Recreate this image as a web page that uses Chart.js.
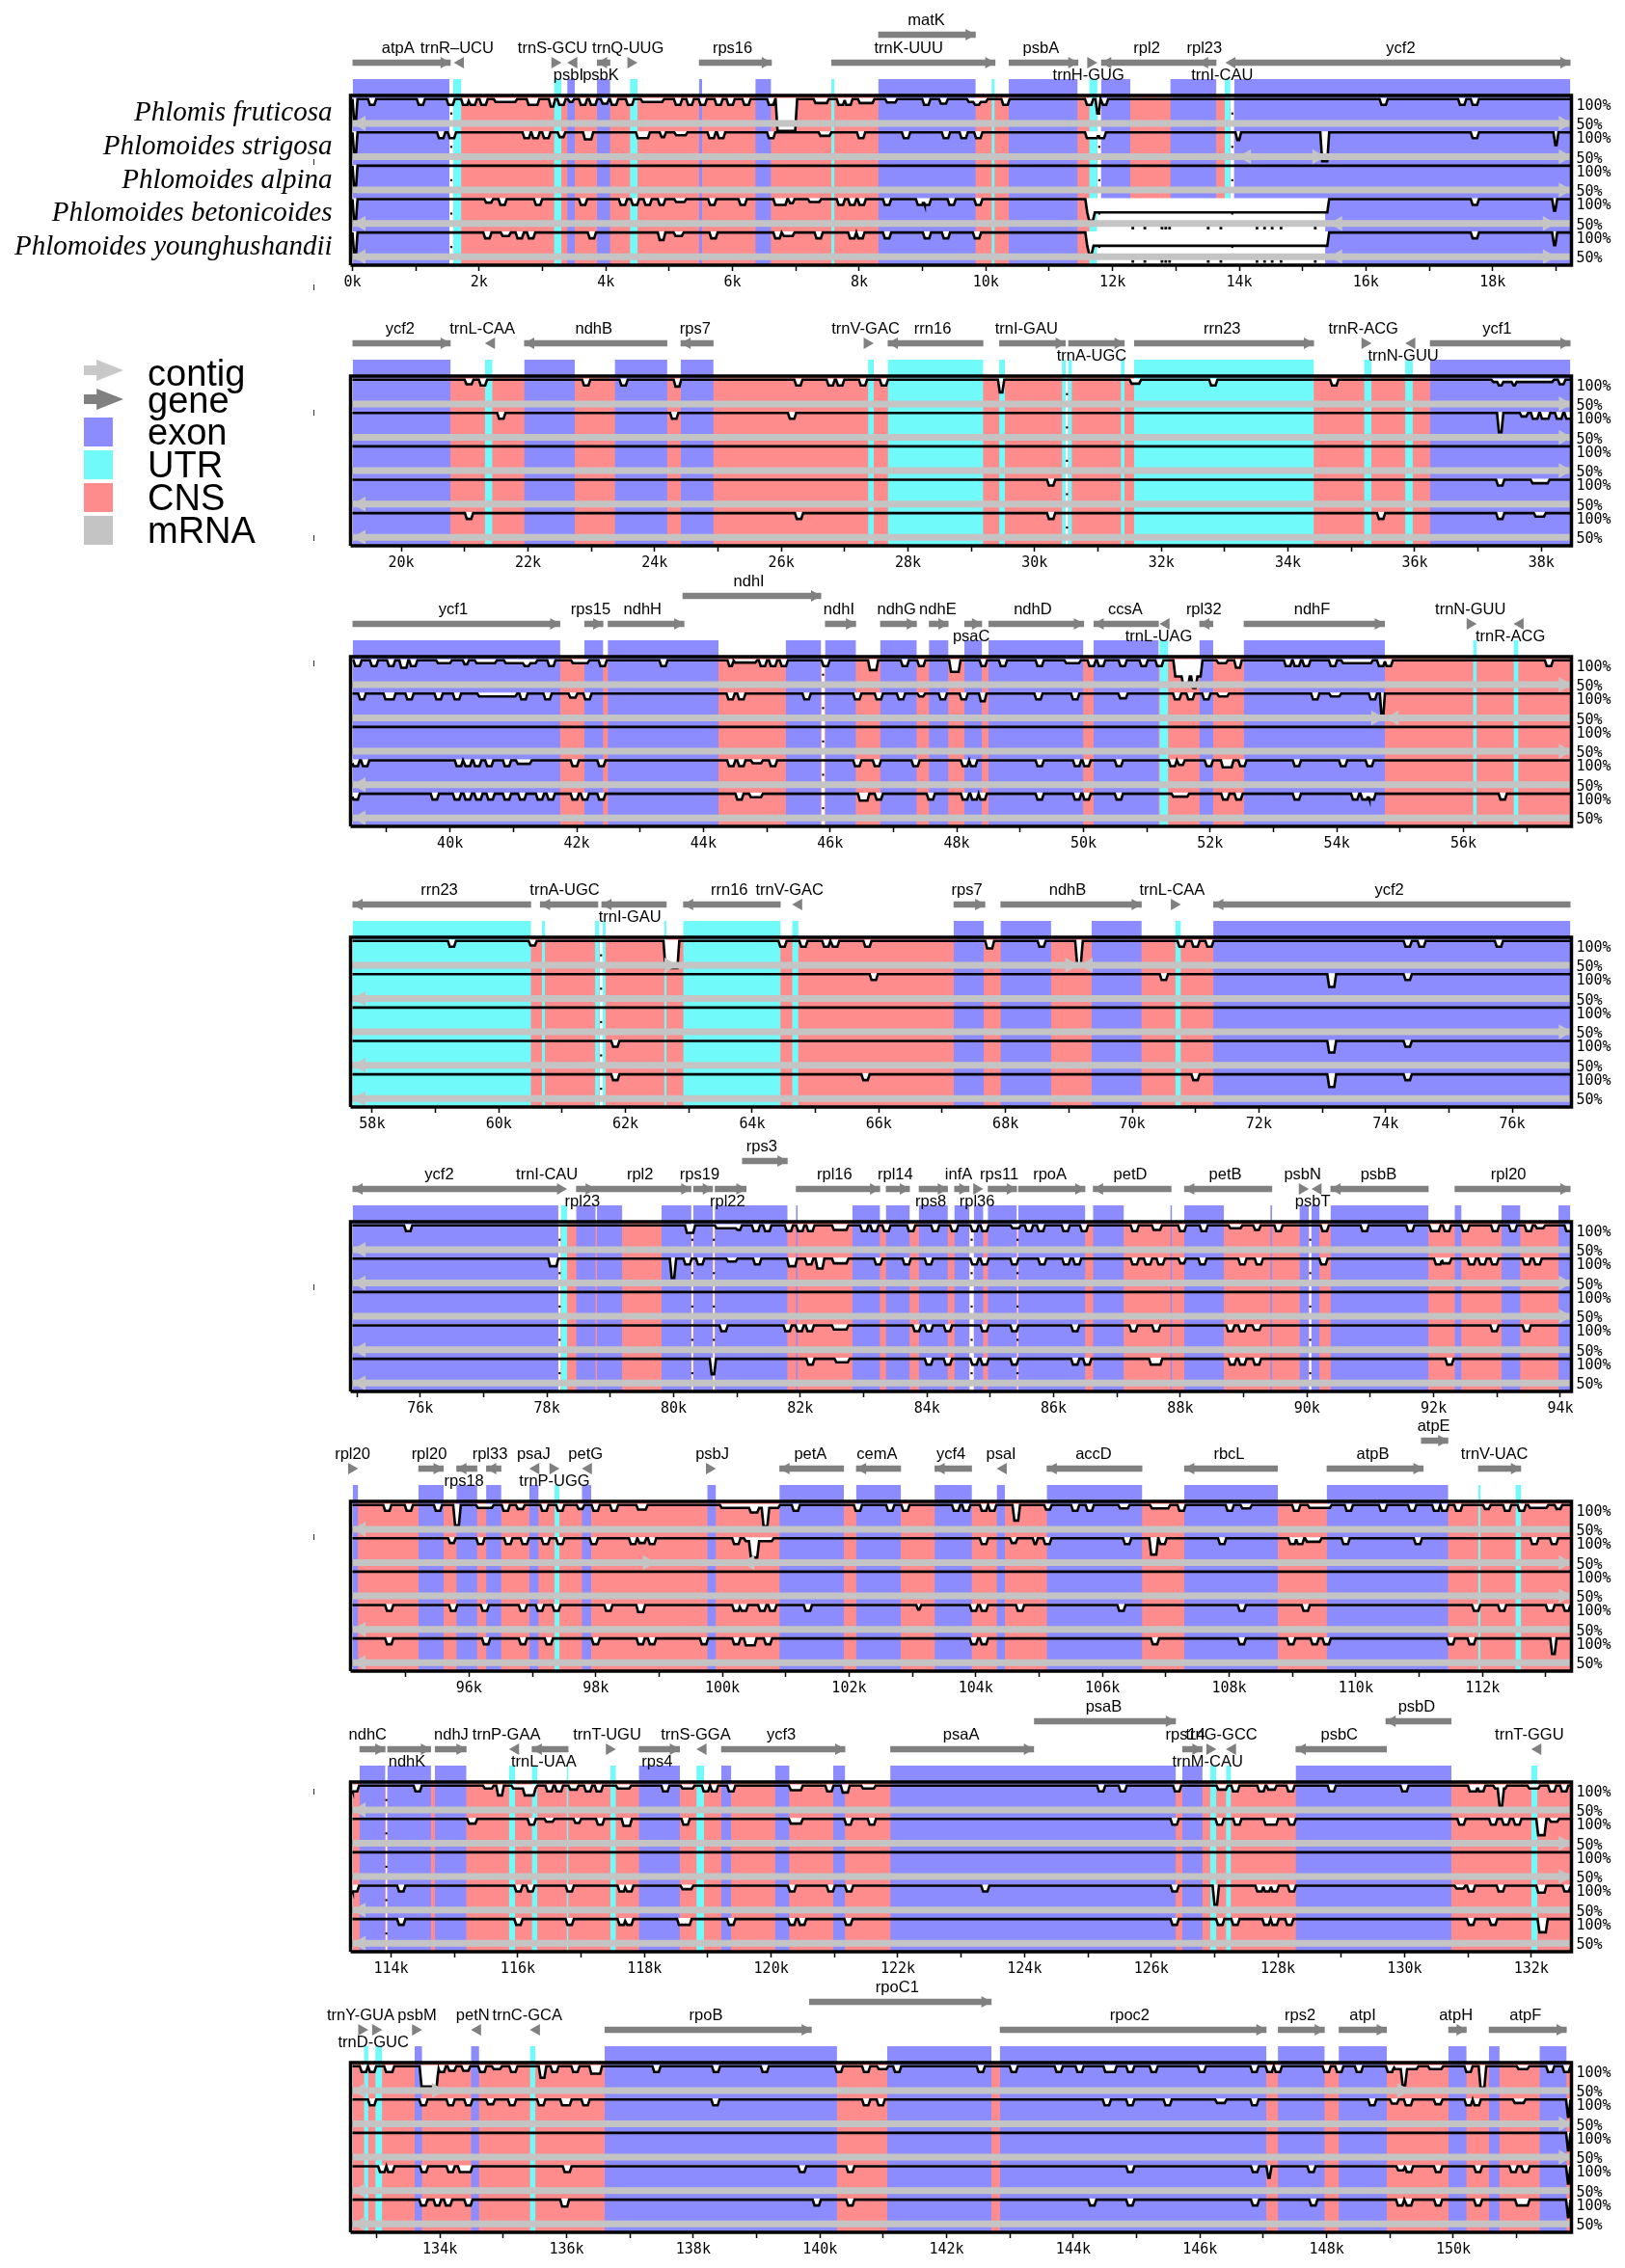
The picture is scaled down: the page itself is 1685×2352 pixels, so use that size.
<!DOCTYPE html>
<html>
<head>
<meta charset="utf-8">
<title>mVISTA plastome alignment</title>
<script src="https://cdn.jsdelivr.net/npm/chart.js"></script>
<style>
  html, body { margin: 0; background: #fff; }
  #page { position: relative; width: 1685px; height: 2352px; overflow: hidden; }
  canvas { position: absolute; left: 0; }
  .lg { position: absolute; left: 153px; font: 38px/38px "Liberation Sans", Arial, sans-serif; color: #000; }
  .sw { position: absolute; left: 87px; width: 30px; height: 30px; }
  .ar { position: absolute; left: 87px; width: 41px; height: 22px; clip-path: polygon(0 27%, 32% 27%, 32% 0, 100% 50%, 32% 100%, 32% 73%, 0 73%); }
  .speck { position: absolute; left: 325px; width: 1px; height: 6px; background: #333; }
</style>
</head>
<body>
<div id="page"></div>
<script>
const species = ['Phlomis fruticosa', 'Phlomoides strigosa', 'Phlomoides alpina', 'Phlomoides betonicoides', 'Phlomoides younghushandii'];
const panelStarts = [0, 19.23, 38.46, 57.69, 74.93, 94.16, 113.39, 132.62];
const panelTops = [99, 390, 681, 972, 1267, 1557, 1848, 2139];
const windowKb = 19.23;

const COL = { exon: '#8C8CFF', utr: '#70FAFA', cns: '#FF8C8C', mrna: '#C4C4C4', gene: '#808080' };

// bands in kb: [start, end]
const exons1 = [[0,1.53],[3.39,3.51],[3.86,4.07],[5.47,5.52],[6.36,6.61],[8.30,9.84],[10.36,11.45],[11.82,12.28],[12.91,13.64],[13.92,19.23]];
const utrs1 = [[1.59,1.72],[3.18,3.30],[4.38,4.50],[7.56,7.61],[10.09,10.14],[11.63,11.76],[13.77,13.86]];
const slits1 = [[1.53,1.59],[11.76,11.82],[13.86,13.92]];
const exons2 = [[19.23,20.78],[21.94,22.74],[23.37,24.2],[24.41,24.93],[36.24,38.46]];
const utrs2 = [[21.32,21.44],[27.37,27.46],[27.68,29.19],[29.44,29.53],[30.43,30.49],[30.53,30.59],[31.36,31.42],[31.57,34.41],[35.2,35.32],[35.85,35.97]];
const slits2 = [[30.49,30.53]];
const exons3 = [[38.46,41.74],[42.12,42.42],[42.49,44.24],[45.3,45.86],[45.92,46.41],[46.79,47.37],[47.56,47.87],[48.12,48.4],[48.5,50.0],[50.16,51.19],[51.83,52.05],[52.53,54.76]];
const utrs3 = [[51.2,51.34],[56.15,56.21],[56.79,56.87]];
const slits3 = [[45.86,45.92]];
const exons4 = [[67.18,67.66],[67.92,68.72],[69.36,70.15],[71.28,76.92]];
const utrs4 = [[57.69,60.51],[60.68,60.73],[61.52,61.59],[61.64,61.69],[62.61,62.65],[62.91,64.45],[64.63,64.73],[70.68,70.77]];
const slits4 = [[61.59,61.64]];
const exons5 = [[74.93,78.18],[78.46,78.77],[78.79,79.19],[79.81,80.28],[80.31,80.62],[80.65,81.8],[81.93,81.96],[82.82,83.26],[83.35,83.73],[83.87,84.33],[84.43,84.67],[84.74,84.89],[84.96,85.42],[85.44,86.5],[86.62,87.11],[87.84,87.87],[88.06,88.69],[89.42,89.45],[89.88,90.03],[90.07,90.2],[90.37,91.92],[92.33,92.44],[93.07,93.37],[93.97,94.16]];
const utrs5 = [[78.22,78.32]];
const slits5 = [[78.18,78.22],[80.28,80.31],[80.62,80.65],[84.67,84.74],[85.42,85.44],[90.03,90.07]];
const exons6 = [[94.16,94.25],[95.2,95.6],[95.8,96.13],[96.27,96.51],[96.95,97.1],[97.78,97.93],[99.76,99.9],[100.9,101.92],[102.11,102.82],[103.35,103.94],[104.33,104.46],[105.12,106.63],[107.29,108.77],[109.54,111.46]];
const utrs6 = [[97.35,97.43],[111.93,111.97],[112.52,112.61]];
const slits6 = [];
const exons7 = [[113.5,113.91],[113.94,114.63],[114.69,115.19],[117.91,118.56],[119.21,119.37],[120.06,120.29],[120.98,121.17],[121.88,126.39],[126.49,126.81],[128.28,130.74]];
const utrs7 = [[115.86,115.96],[116.22,116.31],[116.77,116.8],[117.46,117.55],[118.82,118.94],[126.93,127.03],[127.18,127.26],[132,132.1]];
const slits7 = [[113.91,113.94]];
const exons8 = [[133.6,133.72],[134.49,134.62],[136.6,140.27],[141.06,142.71],[142.84,147.05],[147.23,147.97],[148.19,148.95],[149.92,150.21],[150.56,150.73],[151.36,151.79]];
const utrs8 = [[132.8,132.87],[132.98,133.09],[135.42,135.51]];
const slits8 = [];

// genes: [name, start, end, strand, label centre, row]  a = label above arrow, b = label below, u = upper arrow
const genes1 = [['atpA',0,1.55,1,0.72,'a'],['trnR–UCU',1.6,1.72,-1,1.65,'a'],['trnS-GCU',3.18,3.30,1,3.16,'a'],['psbI',3.39,3.51,-1,3.41,'b'],['psbK',3.86,4.07,-1,3.92,'b'],['trnQ-UUG',4.38,4.50,1,4.35,'a'],['rps16',5.47,6.62,1,6.0,'a'],['matK',8.30,9.84,1,9.06,'u'],['trnK-UUU',7.56,10.15,1,8.78,'a'],['psbA',10.36,11.46,1,10.87,'a'],['trnH-GUG',11.64,11.76,1,11.62,'b'],['rpl2',11.82,13.35,-1,12.54,'a'],['rpl23',13.35,13.64,-1,13.45,'a'],['trnI-CAU',13.78,13.86,-1,13.73,'b'],['ycf2',13.92,19.23,1,16.55,'a']];
const genes2 = [['ycf2',19.23,20.78,1,19.98,'a'],['trnL-CAA',21.32,21.44,-1,21.28,'a'],['ndhB',21.94,24.2,-1,23.04,'a'],['rps7',24.41,24.93,-1,24.64,'a'],['trnV-GAC',27.37,27.46,1,27.33,'a'],['rrn16',27.68,29.19,-1,28.39,'a'],['trnI-GAU',29.44,30.49,1,29.87,'a'],['trnA-UGC',30.53,31.42,1,30.9,'b'],['rrn23',31.57,34.41,1,32.96,'a'],['trnR-ACG',35.2,35.32,1,35.19,'a'],['trnN-GUU',35.85,35.97,-1,35.82,'b'],['ycf1',36.24,38.46,1,37.3,'a']];
const genes3 = [['ycf1',38.46,41.74,1,40.05,'a'],['rps15',42.12,42.42,1,42.22,'a'],['ndhH',42.49,43.7,1,43.04,'a'],['ndhI',43.67,45.86,1,44.72,'u'],['ndhI',45.92,46.41,1,46.14,'a'],['ndhG',46.79,47.37,1,47.05,'a'],['ndhE',47.56,47.87,1,47.7,'a'],['psaC',48.12,48.4,1,48.23,'b'],['ndhD',48.5,50.01,1,49.2,'a'],['ccsA',50.16,51.19,-1,50.66,'a'],['trnL-UAG',51.2,51.34,-1,51.19,'b'],['rpl32',51.83,52.05,-1,51.9,'a'],['ndhF',52.53,54.76,1,53.61,'a'],['trnN-GUU',56.15,56.21,1,56.11,'a'],['trnR-ACG',56.79,56.87,-1,56.74,'b']];
const genes4 = [['rrn23',57.69,60.51,-1,59.06,'a'],['trnA-UGC',60.65,61.57,-1,61.04,'a'],['trnI-GAU',61.62,62.65,-1,62.07,'b'],['rrn16',62.91,64.45,-1,63.64,'a'],['trnV-GAC',64.63,64.73,-1,64.59,'a'],['rps7',67.18,67.68,1,67.39,'a'],['ndhB',67.92,70.15,1,68.98,'a'],['trnL-CAA',70.68,70.77,1,70.63,'a'],['ycf2',71.28,76.92,-1,74.06,'a']];
const genes5 = [['ycf2',74.93,78.18,-1,76.3,'a'],['trnI-CAU',78.22,78.32,1,78,'a'],['rpl23',78.46,78.77,1,78.56,'b'],['rpl2',78.77,80.28,1,79.47,'a'],['rps19',80.31,80.62,1,80.41,'a'],['rpl22',80.65,81.15,1,80.85,'b'],['rps3',81.08,81.8,1,81.39,'u'],['rpl16',81.93,83.26,1,82.54,'a'],['rpl14',83.35,83.73,1,83.5,'a'],['rps8',83.87,84.33,1,84.06,'b'],['infA',84.43,84.67,1,84.5,'a'],['rpl36',84.74,84.89,1,84.79,'b'],['rps11',84.96,85.42,1,85.14,'a'],['rpoA',85.44,86.5,1,85.94,'a'],['petD',86.62,87.86,-1,87.21,'a'],['petB',88.06,89.45,-1,88.71,'a'],['psbN',89.88,90.03,1,89.93,'a'],['psbT',90.07,90.2,-1,90.09,'b'],['psbB',90.37,91.92,-1,91.13,'a'],['rpl20',92.33,94.16,1,93.18,'a']];
const genes6 = [['rpl20',94.16,94.25,1,94.16,'a'],['rpl20',95.2,95.6,1,95.37,'a'],['rps18',95.8,96.13,-1,95.92,'b'],['rpl33',96.27,96.51,-1,96.33,'a'],['psaJ',96.95,97.1,-1,97.02,'a'],['trnP-UGG',97.35,97.43,1,97.35,'b'],['petG',97.78,97.93,-1,97.84,'a'],['psbJ',99.76,99.9,1,99.84,'a'],['petA',100.9,101.92,-1,101.39,'a'],['cemA',102.11,102.82,-1,102.44,'a'],['ycf4',103.35,103.94,-1,103.61,'a'],['psaI',104.33,104.46,-1,104.4,'a'],['accD',105.12,106.63,-1,105.86,'a'],['rbcL',107.29,108.77,-1,108,'a'],['atpB',109.54,111.07,1,110.27,'a'],['atpE',111.03,111.46,1,111.23,'u'],['trnV-UAC',111.93,112.61,1,112.19,'a']];
const genes7 = [['ndhC',113.5,113.91,1,113.63,'a'],['ndhK',113.94,114.63,1,114.25,'b'],['ndhJ',114.69,115.19,1,114.95,'a'],['trnP-GAA',115.86,115.96,-1,115.82,'a'],['trnL-UAA',116.22,116.8,-1,116.41,'b'],['trnT-UGU',117.46,117.55,1,117.41,'a'],['rps4',117.91,118.56,1,118.2,'b'],['trnS-GGA',118.82,118.94,-1,118.81,'a'],['ycf3',119.21,121.17,1,120.16,'a'],['psaA',121.88,124.15,1,123,'a'],['psaB',124.15,126.39,1,125.25,'u'],['rps14',126.49,126.81,1,126.54,'a'],['trnM-CAU',126.93,127.03,1,126.89,'b'],['trnG-GCC',127.18,127.26,-1,127.11,'a'],['psbC',128.28,129.72,-1,128.97,'a'],['psbD',129.7,130.74,-1,130.19,'u'],['trnT-GGU',132,132.1,-1,131.97,'a']];
const genes8 = [['trnY-GUA',132.8,132.87,1,132.75,'a'],['trnD-GUC',132.98,133.09,1,132.95,'b'],['psbM',133.6,133.72,1,133.64,'a'],['petN',134.49,134.62,-1,134.52,'a'],['trnC-GCA',135.42,135.51,-1,135.38,'a'],['rpoB',136.6,139.87,1,138.2,'a'],['rpoC1',139.83,142.71,1,141.22,'u'],['rpoc2',142.84,147.05,1,144.89,'a'],['rps2',147.23,147.97,1,147.58,'a'],['atpI',148.19,148.95,1,148.57,'a'],['atpH',149.92,150.21,1,150.04,'a'],['atpF',150.56,151.79,1,151.14,'a']];

// identity dips per track: a number is a small blob at that kb, [start, end, percent] a wider or deeper one
const dips1 = [
  [[0,0.08,55],0.31,1.08,1.55,1.78,1.9,2.07,[2.23,2.6,95],[2.75,2.95,90],[3.1,3.2,87],3.3,[3.4,3.5,95],3.64,3.8,[3.92,4.05,92],4.13,4.38,[4.55,4.92,95],5.14,[5.27,5.39,90],5.53,5.78,5.97,6.22,6.61,[6.68,7.02,45],[7.28,7.52,93],7.71,7.83,[7.98,8.24,93],[8.41,8.6,94],9.06,[9.26,9.4,92],[9.7,10.03,95],[9.8,9.92,90],10.31,11.63,[11.73,11.81,75],[11.82,11.93,90],16.28,17.52,17.72],
  [[0,0.08,55],1.4,1.57,2.75,2.89,3.06,[3.24,3.36,92],[3.64,3.8,88],4.54,4.63,[4.85,4.95,92],[5.08,5.29,95],5.67,5.82,6.61,[7.36,7.56,94],8.03,8.74,9.37,9.65,9.88,11.63,11.72,11.83,[13.94,14.03,87],[15.28,15.42,50],17.72,[18.96,19.04,78]],
  [[0,0.08,55]],
  [[0,0.08,55],[2.08,2.22,94],2.37,2.93,3.64,4.27,4.46,4.66,[4.82,4.94,90],[5.08,5.27,95],5.68,6.16,6.71,6.8,[6.88,6.98,93],[7.19,7.4,95],7.71,7.89,8.04,8.44,8.96,9.07,9.46,9.88,[11.57,15.42,77],[11.6,11.72,63],17.72,[18.94,19.02,80]],
  [[0,0.08,55],2.13,[2.34,2.5,94],2.64,2.82,3.78,[4.82,4.94,87],[5.07,5.23,94],5.7,6.71,[6.78,6.98,94],7.36,7.89,8.02,8.44,9.07,9.37,9.86,[11.57,15.42,77],[11.6,11.7,63],17.72,[18.94,19.02,78]]
];
const dips2 = [
  [[21.0,21.14,92],21.29,22.92,23.51,[24.3,24.42,88],26.27,26.78,26.93,27.29,27.62,[29.42,29.52,78],[31.5,31.68,93],32.82,34.73,[37.21,38.2,96],[37.3,37.4,90],[37.53,37.61,90],[38.26,38.38,92]],
  [21.58,24.31,26.17,[37.3,37.4,67],[37.66,37.79,94],37.9,[37.98,38.14,90],38.28,38.43],
  [],
  [30.26,37.35,[37.83,38.13,94]],
  [21.07,26.28,30.26,35.47,37.35,[37.88,38.07,94]]
];
const dips3 = [
  [38.54,38.8,39.07,[39.2,39.34,87],39.42,[39.78,40.03,95],[40.2,40.3,93],[40.39,40.74,95],[40.85,41.38,95],[41.15,41.27,90],41.6,[41.91,42.2,95],42.41,43.37,[44.38,44.48,90],[44.47,44.85,96],44.94,45.1,45.27,45.93,[46.6,46.76,83],47.18,47.44,[47.88,48.06,80],[48.36,48.48,90],48.73,49.31,[49.7,49.96,95],50.13,50.28,50.62,50.95,51.2,[51.42,51.88,72],[51.55,51.68,55],[51.7,51.8,52],[52.1,52.28,95],[52.38,52.5,87],53.23,53.37,53.52,53.94,[54.07,54.57,95],54.7,54.82,57.35],
  [[38.55,38.67,90],[38.95,39.14,90],39.36,39.82,40.11,[40.43,41.06,95],41.16,41.54,[41.87,42.01,93],42.17,44.43,44.6,45.63,46.43,46.77,47.12,[47.38,47.5,95],47.78,48.11,[48.35,48.47,87],49.29,49.87,[50.55,50.7,92],51.48,51.69,51.94,[52.11,52.3,95],53.66,[53.88,54.07,95],54.57,[54.68,54.76,55]],
  [],
  [38.51,38.66,40.14,40.28,40.43,40.62,40.9,[41.04,41.29,94],41.97,42.39,44.44,44.6,[44.75,44.94,95],45.1,46.43,46.74,47.35,48.13,48.26,49.31,49.9,50.05,50.56,51.41,[51.48,51.6,92],51.98,[52.17,52.37,88],52.51,53.37,54.1,54.52],
  [38.51,39.76,40.11,40.28,40.45,40.64,40.9,41.14,41.42,41.59,41.97,42.13,42.39,44.57,[44.72,44.94,94],[46.44,46.62,88],46.77,47.59,48.13,48.28,48.41,49.31,49.9,50.05,50.56,[51.39,51.67,95],52.24,52.45,53.37,54.29,54.44,54.55,56.62]
];
const dips4 = [
  [59.26,[60.47,60.6,92],[62.6,62.85,53],64.48,64.81,65.17,65.31,65.82,[67.68,67.82,87],68.57,[69.1,69.22,60],70.78,71,71.22,74.35,74.57,75.79],
  [65.92,70.5,[73.08,73.22,78],74.35],
  [],
  [61.84,[73.08,73.22,80],74.35],
  [61.84,65.79,71,[73.08,73.22,78],74.35]
];
const dips5 = [
  [75.81,[80.18,80.34,87],[80.65,81.05,95],[80.98,81.08,92],81.3,81.48,81.82,82,82.16,[82.5,82.76,92],83.01,83.17,83.36,83.75,84.13,84.43,84.75,84.91,[85.32,85.48,95],85.61,85.8,86.19,86.48,87.28,[87.55,87.71,92],88.03,88.37,[88.76,88.98,95],[89.15,89.27,92],89.55,90.28,90.91,91.63,[91.93,92.11,90],92.21,92.5,92.97,93.25,93.5,[93.6,93.76,95],94.13],
  [[78.02,78.18,87],[79.94,80.04,67],80.22,80.42,[80.83,81.01,95],81.32,[81.79,81.95,87],82.14,[82.24,82.38,83],[82.5,82.76,92],83.23,83.68,84.03,84.75,84.91,85.38,85.82,86.2,86.37,87.28,87.49,87.69,[87.97,88.09,92],88.35,88.98,89.24,90.26,92.07,[92.12,92.28,92],92.6,92.77,92.96,93.47,93.64],
  [],
  [80.79,81.8,81.99,82.15,[82.5,82.76,93],83.84,84.03,84.33,84.91,85.38,86.34,87.26,87.62,88.79,88.98,[89.14,89.28,92],92.96,93.47],
  [[80.57,80.67,73],82.16,[82.54,82.78,94],84.03,84.33,84.75,84.91,85.38,86.34,86.53,87.57,87.65,88.82,88.98,89.21,92.25]
];
const dips6 = [
  [94.71,95.05,95.51,[95.75,95.87,65],[96.11,96.39,95],96.58,[96.74,96.88,93],97.19,97.44,[97.7,97.82,93],98,98.29,[98.64,98.82,92],[99.96,100.91,95],[100.42,100.58,87],[100.62,100.74,63],101.16,102.14,102.65,102.89,103.69,103.85,104.13,104.26,[104.58,104.7,73],[105.08,105.2,92],105.57,105.8,[106.25,106.43,94],[106.75,107.07,94],107.25,108.01,[108.18,108.36,94],109.06,[109.24,109.62,95],109.89,110.43,110.89,111.27,111.4,111.62,[112.01,112.13,93],112.39,112.62,[112.72,113.04,95],[113.14,113.26,93]],
  [[95.67,95.79,92],96.18,96.62,96.88,97.21,97.44,97.97,98.59,[98.66,98.8,92],98.89,100.22,[100.34,100.81,95],[100.42,100.58,67],104.13,[104.54,104.66,92],[104.9,104.98,90],105.13,106.39,[106.74,106.88,72],106.95,107.89,109,109.12,[109.2,109.46,94],109.84,110.98,112.82,113.13],
  [],
  [94.74,95.75,96.25,96.85,97.12,97.38,98.2,[98.64,98.78,88],100.22,100.34,100.63,100.79,101.35,[103.06,103.14,92],103.97,104.13,104.7,106.3,108.2,109.21,111.9,112.31,[113.0,113.14,90],[113.27,113.39,90]],
  [94.74,96.27,96.85,97.26,98,98.71,98.89,99.71,100.22,[100.34,100.54,88],100.72,103.97,104.13,106.83,108.2,108.98,109.35,109.54,111.5,111.83,[113.07,113.17,73]]
];
const dips7 = [
  [113.43,114.42,[115.45,115.62,95],[115.66,115.78,83],[115.9,116.31,95],[116.08,116.28,83],116.5,116.65,[116.8,116.96,93],117.11,117.28,[117.55,117.79,95],118.33,[118.57,118.79,95],118.97,119.1,119.37,[120.28,120.5,92],120.92,[121.1,121.24,88],[121.42,121.65,95],125.21,125.55,126.41,[127.03,127.21,93],127.33,127.74,[127.82,127.98,93],128.2,128.85,130,[131,131.16,90],131.21,[131.4,131.62,95],[131.47,131.57,65],[131.94,132.14,95],132.33,132.52],
  [[115.2,115.36,92],116.22,[116.42,116.58,95],[116.88,117,93],117.3,[117.64,117.8,88],118.65,[120.28,120.5,92],121.22,121.59,126.37,127.08,127.36,127.84,127.94,128.22,130.9,131.4,131.6,131.78,[132.08,132.24,72],[132.28,132.44,95]],
  [],
  [113.43,114.16,116.01,116.2,116.82,117.64,117.76,[118.57,118.77,94],120.33,120.94,121.23,123.38,126.37,[126.97,127.07,67],127.71,127.83,127.95,128.22,[130.79,130.96,95],131.05,131.52,[132.08,132.24,88],132.56],
  [114.16,116.01,116.82,117.64,117.76,118.58,118.68,119.37,120.33,120.49,121.22,126.37,127.09,127.33,127.82,127.95,128.18,131.05,131.4,[132.1,132.26,77]]
];
const dips8 = [
  [132.8,132.93,[133.12,133.28,90],[133.68,133.98,65],134.03,[134.12,134.26,92],[134.34,134.48,92],134.67,[134.82,134.98,95],135.16,[135.56,135.68,80],135.81,136.14,[136.36,136.56,87],137.42,138.36,139.13,140.3,140.73,[140.9,141.08,95],141.22,142.54,143.06,143.77,144.1,144.54,144.62,144.9,145.27,146.03,146.86,147.1,147.23,148,148.2,148.51,149,[149.05,149.45,95],[149.17,149.27,67],[149.6,149.84,95],150.24,[150.4,150.52,63],[151,151.2,95],151.53,[151.72,151.85,90]],
  [132.93,133.74,134.17,134.45,[134.73,134.87,92],135.14,135.6,[135.9,136.08,90],136.3,138.35,140.73,140.96,144.53,144.9,145.49,[146.24,146.42,94],146.86,148.72,[149,149.14,93],[149.22,149.36,90],[149.69,149.83,92],150.24,150.37,[150.94,151.14,94],[151.78,151.85,70]],
  [[151.78,151.85,70]],
  [133.09,133.22,133.75,134.17,134.35,134.45,[135.94,136.08,90],139.72,140.48,144.9,146.87,[147.05,147.13,80],147.76,[149.1,149.24,93],149.3,149.76,150.39,150.95,151.14,[151.78,151.85,70]],
  [133.74,[133.9,134.02,90],134.13,134.45,[135.9,136.04,88],139.95,140.48,144.3,144.9,146.87,147.79,149.16,149.3,149.76,150.39,151.04,151.14,[151.78,151.85,70]]
];

// heads on the contig bars: [track, tip kb, direction]
const heads1 = [[0,0,-1],[0,19.25,1],[1,19.25,1],[1,13.98,-1],[1,15.36,1],[2,19.25,1],[3,0,-1],[3,15.42,-1],[3,19.0,1],[4,0,-1],[4,15.42,-1],[4,19.0,1]];
const heads2 = [[0,38.48,1],[1,38.48,1],[2,38.48,1],[3,19.23,-1],[4,19.23,-1]];
const heads3 = [[0,57.71,1],[1,54.75,1],[1,54.77,-1],[2,57.71,1],[3,38.46,-1],[4,38.46,-1]];
const heads4 = [[0,62.82,1],[0,69.15,1],[0,69.17,-1],[1,57.69,-1],[2,76.94,1],[3,57.69,-1],[4,57.69,-1]];
const heads5 = [[0,74.93,-1],[1,74.93,-1],[1,94.18,1],[2,94.18,1],[3,74.93,-1],[4,74.93,-1]];
const heads6 = [[0,94.16,-1],[1,98.95,1],[1,100.3,-1],[1,113.41,1],[2,113.41,1],[3,94.16,-1],[4,94.16,-1]];
const heads7 = [[0,113.39,-1],[1,132.64,1],[2,132.64,1],[3,113.39,-1],[4,113.39,-1]];
const heads8 = [[0,132.62,-1],[0,134.08,1],[0,149.32,1],[1,151.87,1],[2,151.87,1],[3,132.62,-1],[4,132.62,-1]];

// tracks 4 and 5 have no alignment over part of the first window
const noAlign1 = [[3,11.75,15.36],[4,11.75,15.36]];
const noAlignSpecks = [12.32,12.51,12.78,12.84,12.9,13.51,13.71,14.28,14.4,14.52,14.66,15.2];

const allExons = [exons1, exons2, exons3, exons4, exons5, exons6, exons7, exons8];
const allUtrs = [utrs1, utrs2, utrs3, utrs4, utrs5, utrs6, utrs7, utrs8];
const allSlits = [slits1, slits2, slits3, slits4, slits5, slits6, slits7, slits8];
const allGenes = [genes1, genes2, genes3, genes4, genes5, genes6, genes7, genes8];
const allDips = [dips1, dips2, dips3, dips4, dips5, dips6, dips7, dips8];
const allHeads = [heads1, heads2, heads3, heads4, heads5, heads6, heads7, heads8];

// y scale is in plot pixels above the bottom of the box
const FRAME_H = 176, PLOT_H = 268, CANVAS_H = 300, PITCH = 34.6;
const trackTop = t => FRAME_H - 3.7 - PITCH * t;
const yFor = (t, pct) => trackTop(t) - (100 - pct) * 0.6;
const BAND_TOP = FRAME_H + 17;
const ROW_MAIN = FRAME_H + 34, ROW_UPPER = FRAME_H + 63;
const LABEL_Y = { a: FRAME_H + 49, b: FRAME_H + 21, u: FRAME_H + 78 };
const KB_PX = 65.67;

// turn the read dips into the curve of one track
function curve(dips, x0, x1, t) {
  const list = dips.map(d => typeof d === 'number' ? [d - 0.065, d + 0.065, 90] : d);
  const xs = new Set([x0, x1]);
  list.forEach(([s, e]) => {
    const r = Math.min(0.03, (e - s) / 2);
    [s, s + r, e - r, e].forEach(v => xs.add(v));
  });
  return [...xs].filter(v => v >= x0 && v <= x1).sort((a, b) => a - b).map(x => {
    let p = 100;
    list.forEach(([s, e, v]) => {
      if (x <= s || x >= e) return;
      const r = Math.min(0.03, (e - s) / 2);
      const k = Math.min(1, (x - s) / r, (e - x) / r);
      p = Math.min(p, 100 - (100 - v) * k);
    });
    return { x, y: yFor(t, p) };
  });
}

function bands(list, top) {
  const out = [];
  list.forEach(([s, e]) => out.push({ x: s, y: top }, { x: e, y: top }, { x: e, y: null }));
  return out;
}

function band(list, color, top, bottom, order) {
  return { data: bands(list, top), borderWidth: 0, pointRadius: 0, backgroundColor: color, fill: { value: bottom }, order };
}

function buildDatasets(i) {
  const x0 = panelStarts[i], x1 = x0 + windowKb;
  const ds = [];
  ds.push(band([[x0, x1]], COL.cns, FRAME_H, 0, 90));
  ds.push(band(allExons[i], COL.exon, BAND_TOP, 0, 80));
  ds.push(band(allUtrs[i], COL.utr, BAND_TOP, 0, 70));
  ds.push(band(allSlits[i], '#FFFFFF', FRAME_H, 0, 60));

  if (i === 0) {
    noAlign1.forEach(([t, s, e]) => ds.push(band([[s, e]], '#FFFFFF', trackTop(t), trackTop(t) - PITCH, 55)));
    ds.push({ data: [3, 4].flatMap(t => noAlignSpecks.map(x => ({ x, y: trackTop(t) - 30 }))), showLine: false, pointStyle: 'rect', pointRadius: 2, pointBackgroundColor: '#000', pointBorderWidth: 0, order: 52 });
  }

  // black dashes where the curve has no aligned bases
  const dashes = [];
  allSlits[i].forEach(([s, e]) => [0, 1, 2, 3, 4].forEach(t => dashes.push({ x: (s + e) / 2, y: yFor(t, 75) })));
  ds.push({ data: dashes, showLine: false, pointStyle: 'rect', pointRadius: 1.5, pointBackgroundColor: '#000', pointBorderWidth: 0, order: 45 });

  allDips[i].forEach((d, t) => {
    ds.push({ data: curve(d, x0, x1, t), borderColor: '#000', borderWidth: 2.6, pointRadius: 0, backgroundColor: '#FFFFFF', fill: { value: trackTop(t) + 1 }, tension: 0, order: 50 });
  });

  // contig bars and their heads
  [0, 1, 2, 3, 4].forEach(t => {
    ds.push({ data: [{ x: x0, y: yFor(t, 58) }, { x: x1, y: yFor(t, 58) }], borderColor: COL.mrna, borderWidth: 7, pointRadius: 0, order: 40 });
  });
  [1, -1].forEach(dir => {
    const pts = allHeads[i].filter(h => h[2] === dir).map(h => ({ x: h[1] - dir * 9 / KB_PX, y: yFor(h[0], 58) }));
    ds.push({ data: pts, showLine: false, pointStyle: 'triangle', pointRadius: 9, pointRotation: dir * 90, pointBackgroundColor: COL.mrna, pointBorderWidth: 0, order: 35 });
  });

  // gene arrows
  const rowY = g => g[5] === 'u' ? ROW_UPPER : ROW_MAIN;
  const shafts = [];
  allGenes[i].forEach(g => {
    if (g[2] - g[1] > 0.2) shafts.push({ x: g[1], y: rowY(g) }, { x: g[2], y: rowY(g) }, { x: g[2], y: null });
  });
  ds.push({ data: shafts, borderColor: COL.gene, borderWidth: 6.5, pointRadius: 0, borderCapStyle: 'butt', order: 20 });
  [1, -1].forEach(dir => {
    const pts = allGenes[i].filter(g => g[3] === dir).map(g => ({ x: (dir > 0 ? g[2] : g[1]) - dir * 7 / KB_PX, y: rowY(g) }));
    ds.push({ data: pts, showLine: false, pointStyle: 'triangle', pointRadius: 7, pointRotation: dir * 90, pointBackgroundColor: COL.gene, pointBorderWidth: 0, order: 19 });
  });

  // box round the tracks
  const fx0 = x0 - 2 / KB_PX, fx1 = x1 + 1 / KB_PX;
  ds.push({ data: [{ x: fx0, y: 0 }, { x: fx1, y: 0 }, { x: fx1, y: FRAME_H }, { x: fx0, y: FRAME_H }, { x: fx0, y: 0 }], borderColor: '#000', borderWidth: 3.5, pointRadius: 0, order: 10 });

  ds.forEach(d => { d.clip = false; d.spanGaps = false; });
  return ds;
}

const geneLabels = i => ({
  id: 'geneLabels',
  afterDatasetsDraw(chart) {
    const { ctx, scales } = chart;
    ctx.save();
    ctx.font = '16.5px "Liberation Sans", Arial, sans-serif';
    ctx.fillStyle = '#000';
    ctx.textAlign = 'center';
    ctx.textBaseline = 'middle';
    allGenes[i].forEach(g => ctx.fillText(g[0], scales.x.getPixelForValue(g[4]), scales.y.getPixelForValue(LABEL_Y[g[5]])));
    ctx.restore();
  }
});

const noPad = s => { s.paddingTop = s.paddingBottom = s.paddingLeft = s.paddingRight = 0; };
const page = document.getElementById('page');
const monoFont = { family: '"DejaVu Sans Mono", monospace', size: 15 };

panelStarts.forEach((x0, i) => {
  const canvas = document.createElement('canvas');
  canvas.width = 1685;
  canvas.height = CANVAS_H;
  canvas.style.top = (panelTops[i] - (PLOT_H - FRAME_H)) + 'px';
  page.appendChild(canvas);

  new Chart(canvas, {
    type: 'line',
    data: { datasets: buildDatasets(i) },
    plugins: [geneLabels(i)],
    options: {
      responsive: false,
      animation: false,
      layout: { padding: 0, autoPadding: false },
      plugins: { legend: { display: false }, tooltip: { enabled: false } },
      events: [],
      scales: {
        x: {
          type: 'linear',
          min: x0,
          max: x0 + windowKb,
          grid: { drawOnChartArea: false, tickLength: 6, tickColor: '#000', tickWidth: 1.5 },
          border: { display: false },
          ticks: {
            stepSize: 1,
            includeBounds: false,
            autoSkip: false,
            maxRotation: 0,
            padding: 3,
            color: '#000',
            font: monoFont,
            callback: v => (Math.round(v) % 2 === 0 ? Math.round(v) + 'k' : '')
          },
          afterFit: s => { s.height = CANVAS_H - PLOT_H; noPad(s); }
        },
        y: {
          type: 'linear',
          position: 'right',
          min: 0,
          max: PLOT_H,
          grid: { display: false, drawTicks: false },
          border: { display: false },
          ticks: {
            autoSkip: false,
            padding: 6,
            color: '#000',
            font: monoFont,
            callback: (v, idx) => (idx % 2 === 0 ? '100%' : '50%')
          },
          afterBuildTicks: s => {
            s.ticks = [0, 1, 2, 3, 4].flatMap(t => [{ value: trackTop(t) - 7 }, { value: trackTop(t) - 27.5 }]);
          },
          afterFit: s => { s.width = 56.5; noPad(s); }
        },
        yl: {
          type: 'linear',
          position: 'left',
          min: 0,
          max: PLOT_H,
          grid: { display: false, drawTicks: false },
          border: { display: false },
          ticks: {
            autoSkip: false,
            padding: 21,
            color: '#000',
            font: { family: '"Liberation Serif", serif', size: 29, style: 'italic' },
            callback: (v, idx) => (i === 0 ? species[idx] : '')
          },
          afterBuildTicks: s => {
            s.ticks = species.map((n, t) => ({ value: trackTop(t) - 15 }));
          },
          afterFit: s => { s.width = 365.5; noPad(s); }
        }
      }
    }
  });
});

// legend
const legendArrows = [['contig', '#C8C8C8', 373, 387], ['gene', '#808080', 403, 415]];
const legendBoxes = [['exon', COL.exon, 433], ['UTR', COL.utr, 467], ['CNS', COL.cns, 501], ['mRNA', COL.mrna, 535]];
function addLegendText(label, y) {
  const d = document.createElement('div');
  d.className = 'lg';
  d.style.top = (y - 19) + 'px';
  d.textContent = label;
  page.appendChild(d);
}
legendArrows.forEach(([label, color, top, textY]) => {
  const a = document.createElement('div');
  a.className = 'ar';
  a.style.top = top + 'px';
  a.style.background = color;
  page.appendChild(a);
  addLegendText(label, textY);
});
legendBoxes.forEach(([label, color, top]) => {
  const b = document.createElement('div');
  b.className = 'sw';
  b.style.top = top + 'px';
  b.style.background = color;
  page.appendChild(b);
  addLegendText(label, top + 15);
});

// small stray marks left of the tracks in the original figure
[165, 295, 425, 555, 685, 1332, 1591, 1855].forEach(top => {
  const m = document.createElement('div');
  m.className = 'speck';
  m.style.top = top + 'px';
  page.appendChild(m);
});
</script>
</body>
</html>
